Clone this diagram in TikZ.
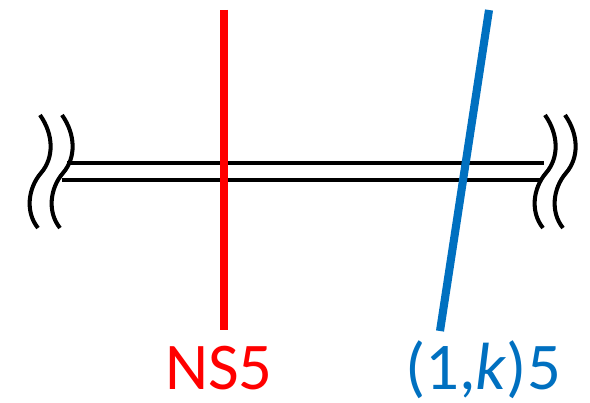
\documentclass[tikz,border=0pt]{standalone}
\usepackage{fontspec}
\setmainfont{Carlito}
\usepackage{tikz}
\usetikzlibrary{calc, positioning}

\definecolor{nsred}{RGB}{255,0,0}
\definecolor{pqblue}{RGB}{0,112,192}

\begin{document}
\begin{tikzpicture}[x=0.02cm, y=-0.02cm, every node/.style={font=\fontsize{38}{44}\selectfont, inner sep=0pt}]
        \useasboundingbox (0,0) rectangle (590,402);
        \tikzset{brane/.style={line width=4.6pt}, dbrane/.style={line width=2.3pt}, cutmark/.style={line width=2.3pt}}

        % branes
        \coordinate (nstop) at (224,10);
        \coordinate (nsbot) at (224,330);
        \coordinate (pqtop) at (489,10);
        \coordinate (pqbot) at (440,331);

        % double line
        \coordinate (uleft) at (67,163);
        \coordinate (uright) at (544,163);
        \coordinate (lleft) at (62,180);
        \coordinate (lright) at (540,180);
        \draw[dbrane] (uleft) -- (uright);
        \draw[dbrane] (lleft) -- (lright);

        \draw[brane, nsred] (nstop) -- (nsbot);
        \draw[brane, pqblue] (pqtop) -- (pqbot);

        % cut marks
        \foreach \cx in {40, 62, 545, 565} {
            \draw[cutmark] (\cx,115) .. controls (\cx+14,135) and (\cx+14,158) .. (\cx+1,173)
                .. controls (\cx-12,188) and (\cx-15,212) .. (\cx-2,228);
        }

        \node[nsred, anchor=base] (nslabel) at (219,389) {NS5};
        \node[pqblue, anchor=base] (pqlabel) at (483,389) {(1,\textit{k})5};
    \end{tikzpicture}
\end{document}
